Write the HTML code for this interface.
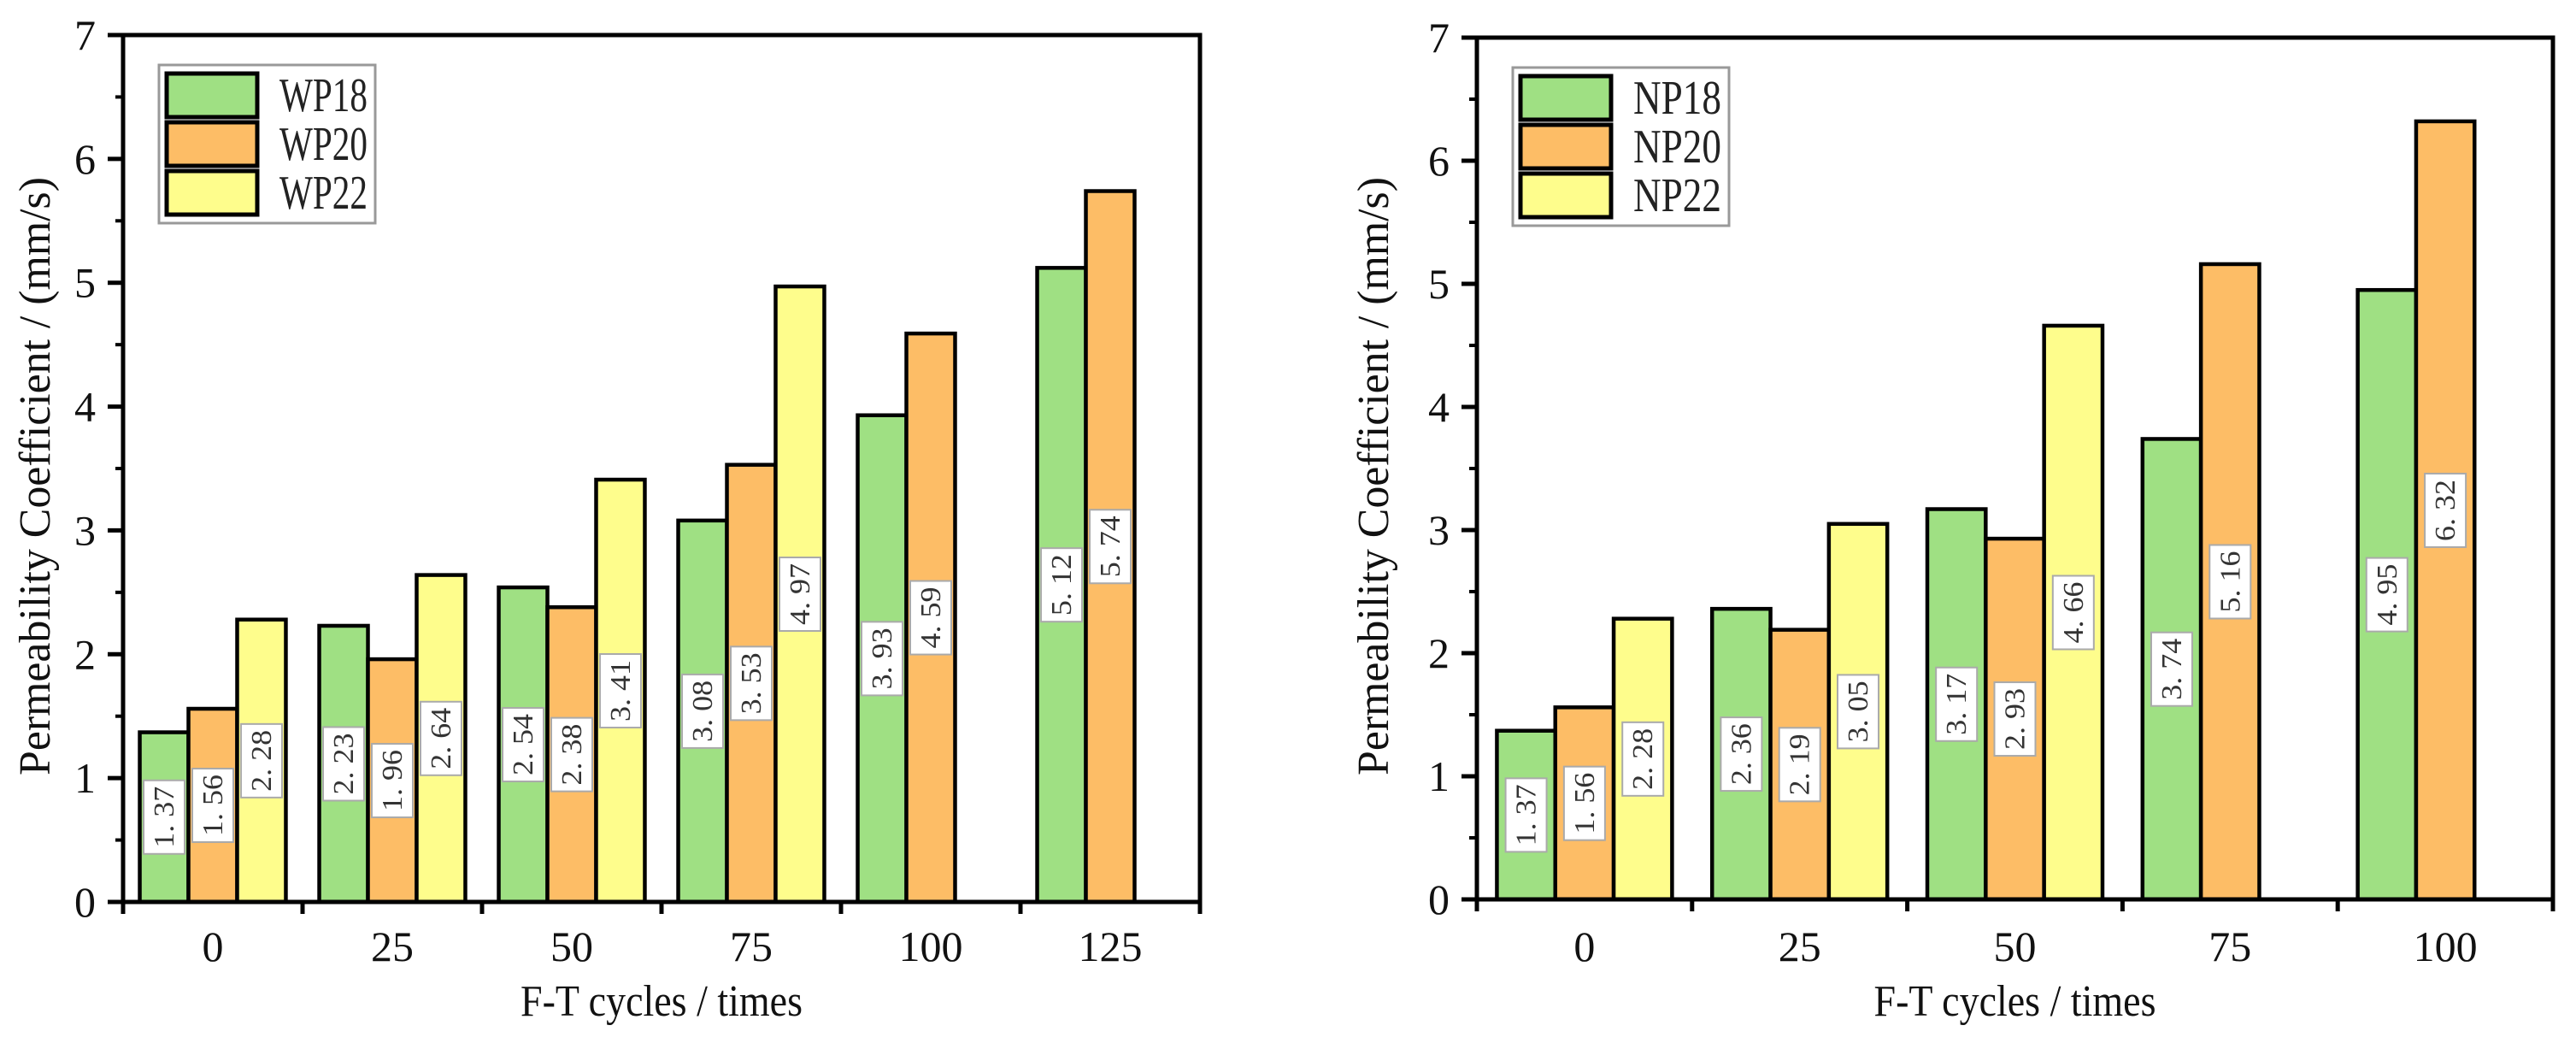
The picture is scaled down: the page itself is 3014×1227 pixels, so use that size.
<!DOCTYPE html>
<html><head><meta charset="utf-8"><style>
html,body{margin:0;padding:0;background:#fff;}
svg{display:block;font-family:"Liberation Serif",serif;}
</style></head><body>
<svg id="svg" width="3014" height="1227" viewBox="0 0 3014 1227" xmlns="http://www.w3.org/2000/svg"></svg>
<script>
const leftCategories = ["0","25","50","75","100","125"];
const leftSeriesNames = ["WP18","WP20","WP22"];
const leftWP18 = [1.37,2.23,2.54,3.08,3.93,5.12];
const leftWP20 = [1.56,1.96,2.38,3.53,4.59,5.74];
const leftWP22 = [2.28,2.64,3.41,4.97,null,null];
const rightCategories = ["0","25","50","75","100"];
const rightSeriesNames = ["NP18","NP20","NP22"];
const rightNP18 = [1.37,2.36,3.17,3.74,4.95];
const rightNP20 = [1.56,2.19,2.93,5.16,6.32];
const rightNP22 = [2.28,3.05,4.66,null,null];
const yTicks = [0,1,2,3,4,5,6,7];
const colors = ["#9fe083","#fdbd66","#fefd8c"];

const NS="http://www.w3.org/2000/svg";
const svg=document.getElementById('svg');
function mk(tag,attrs,parent,text){const e=document.createElementNS(NS,tag);for(const k in attrs)e.setAttribute(k,attrs[k]);if(text!==undefined)e.textContent=text;(parent||svg).appendChild(e);return e;}

function drawChart(o){
  const g=mk('g',{});
  
  
  const y=v=>o.y0-(v/7)*(o.y0-o.top);
  const n=o.cats.length;
  const step=(o.right-o.left)/n;
  const cx=i=>o.left+step*(i+0.5);
  const bw=step*0.814/3;
  o.series.forEach((vals,s)=>{
    vals.forEach((v,i)=>{
      if(v===null)return;
      const x=cx(i)-1.5*bw+s*bw;
      const r=mk('rect',{x:x,y:y(v),width:bw,height:o.y0-y(v),fill:colors[s],stroke:'#000','stroke-width':4.5},g);
      
      
    });
  });
  o.series.forEach((vals,s)=>{
    vals.forEach((v,i)=>{
      if(v===null)return;
      const xc=cx(i)-1.5*bw+s*bw+bw/2, yc=y(v/2);
      const lg=mk('g',{},g);
      
      
      mk('rect',{x:xc-24,y:yc-43,width:48,height:86,fill:'#fff',stroke:'#aaa','stroke-width':2},lg);
      const txt=v.toFixed(2).replace('.', '. ');
      mk('text',{x:0,y:0,transform:`translate(${xc+11},${yc}) rotate(-90)`,'text-anchor':'middle','font-size':34,textLength:72,lengthAdjust:'spacingAndGlyphs',fill:'#333'},lg,txt);
    });
  });
  const f=mk('rect',{x:o.left,y:o.top,width:o.right-o.left,height:o.y0-o.top,fill:'none',stroke:'#000','stroke-width':5},g);
  
  
  yTicks.forEach(t=>{
    mk('line',{x1:o.left-18,x2:o.left,y1:y(t),y2:y(t),stroke:'#000','stroke-width':5},g);
    if(t<7)mk('line',{x1:o.left-9,x2:o.left,y1:y(t+0.5),y2:y(t+0.5),stroke:'#000','stroke-width':4},g);
    const tl=mk('text',{x:o.left-32,y:y(t)+17,'text-anchor':'end','font-size':50,fill:'#111'},g,String(t));
    
    
  });
  for(let i=0;i<=n;i++){
    const xx=o.left+step*i;
    mk('line',{x1:xx,x2:xx,y1:o.y0,y2:o.y0+14,stroke:'#000','stroke-width':5},g);
  }
  o.cats.forEach((c,i)=>{
    const tl=mk('text',{x:cx(i),y:1124,'text-anchor':'middle','font-size':50,fill:'#111'},g,c);
    
    
  });
  const xt=mk('text',{x:(o.left+o.right)/2,y:1188,'text-anchor':'middle','font-size':52,textLength:330,lengthAdjust:'spacingAndGlyphs',fill:'#111'},g,'F-T cycles / times');
  
  
  const yt=mk('text',{x:0,y:0,transform:`translate(${o.ytx},557) rotate(-90)`,'text-anchor':'middle','font-size':52,textLength:700,lengthAdjust:'spacingAndGlyphs',fill:'#111'},g,'Permeability Coefficient / (mm/s)');
  
  
  const lg=mk('g',{},g);
  
  
  const lx=o.left+42, ly=o.top+35;
  mk('rect',{x:lx,y:ly,width:253,height:185,fill:'#fff',stroke:'#999','stroke-width':3},lg);
  o.names.forEach((nm,s)=>{
    const e=mk('g',{},lg);
    
    
    mk('rect',{x:lx+9,y:ly+10+s*57,width:106,height:51,fill:colors[s],stroke:'#000','stroke-width':5},e);
    mk('text',{x:lx+141,y:ly+54+s*57,'font-size':56,textLength:103,lengthAdjust:'spacingAndGlyphs',fill:'#222'},e,nm);
  });
}
drawChart({name:'left-chart',left:144,right:1404,top:41,y0:1055,cats:leftCategories,names:leftSeriesNames,series:[leftWP18,leftWP20,leftWP22],ytx:58});
drawChart({name:'right-chart',left:1728,right:2987,top:44,y0:1052,cats:rightCategories,names:rightSeriesNames,series:[rightNP18,rightNP20,rightNP22],ytx:1624});
</script>
</body></html>
